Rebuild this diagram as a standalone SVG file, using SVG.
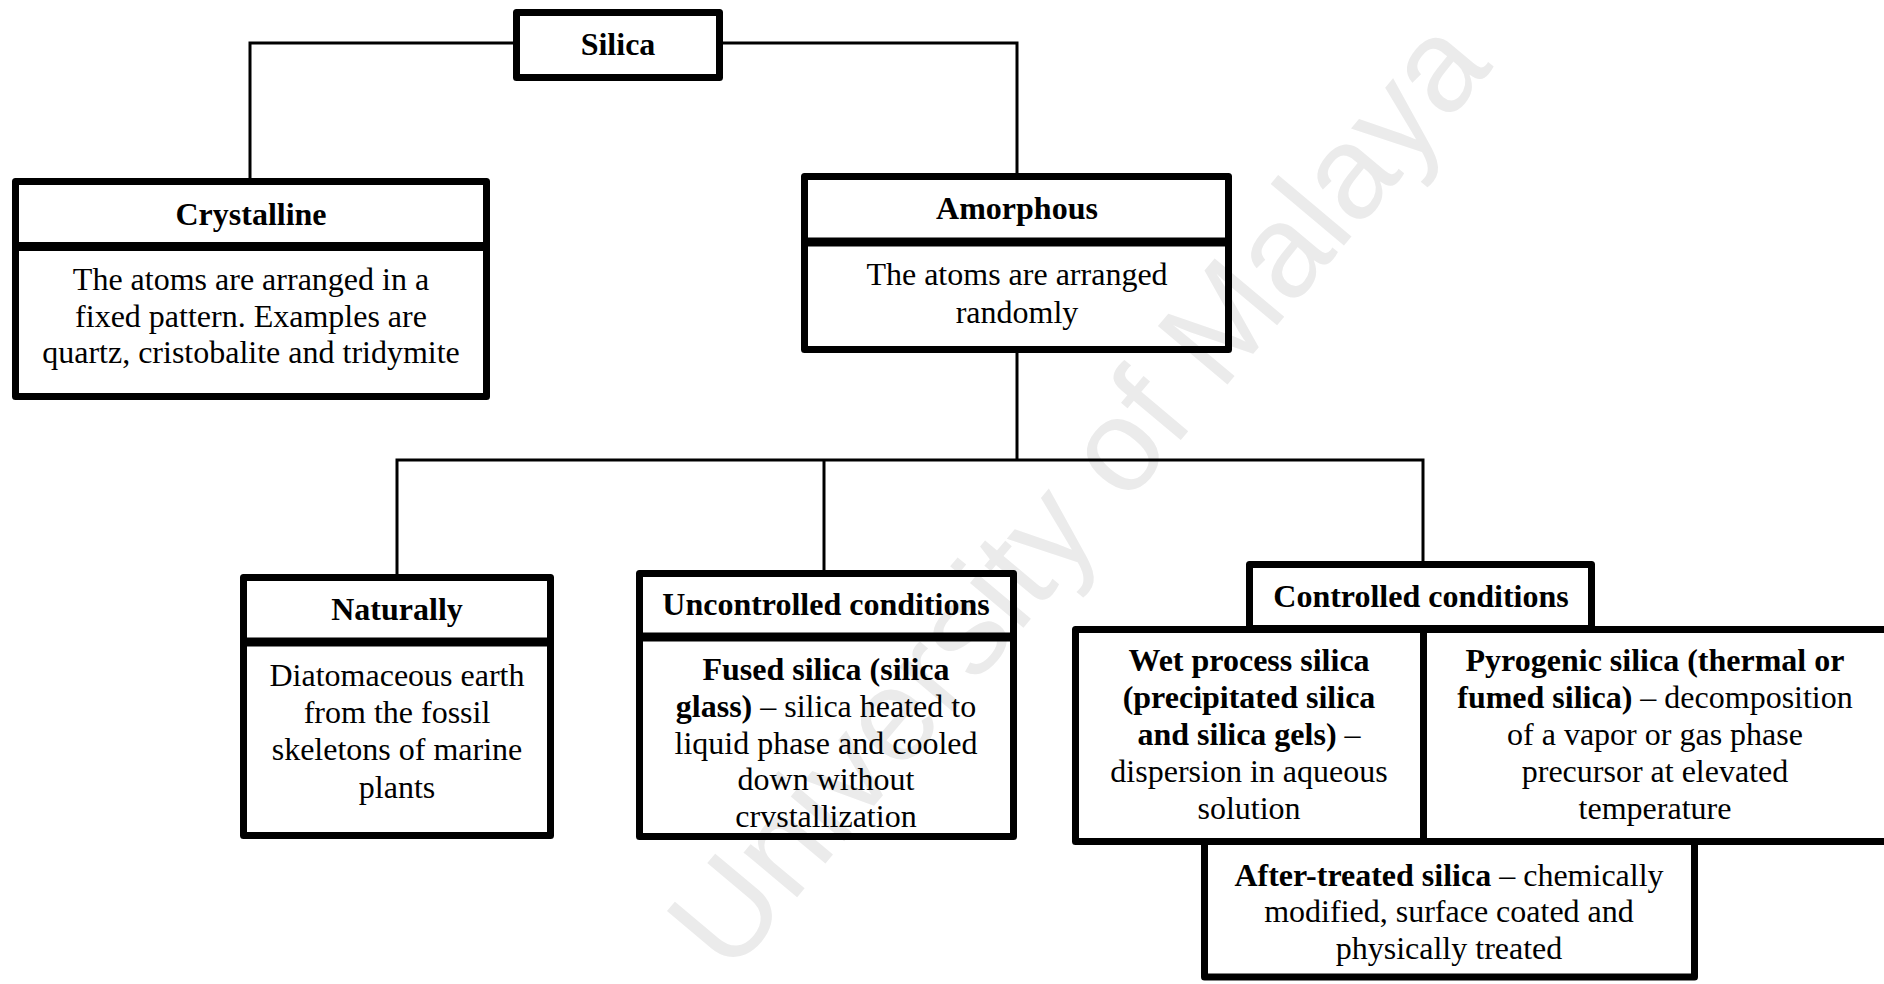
<svg xmlns="http://www.w3.org/2000/svg" width="1884" height="984" viewBox="0 0 1884 984">
<style>
.box{fill:none;stroke:#000;stroke-width:7;stroke-linejoin:round}
.div{stroke:#000;stroke-width:9}
.con{fill:none;stroke:#000;stroke-width:3}
text{font-family:"Liberation Serif","Times New Roman",serif;font-size:32px;fill:#000;text-anchor:middle}
.b{font-weight:bold}
.wm{font-family:"Liberation Sans",Arial,sans-serif;font-size:132px;fill:#ebebeb;text-anchor:middle}
</style>
<rect x="0" y="0" width="1884" height="984" fill="#fff"/>
<text class="wm" transform="translate(1112,522) rotate(-50)">University of Malaya</text>
<g id="connectors">
<path class="con" d="M513,43 H250 V178"/>
<path class="con" d="M723,43 H1017 V173"/>
<path class="con" d="M1017,353 V460"/>
<path class="con" d="M397,574 V460 H1423 V561"/>
<path class="con" d="M824,460 V570"/>
</g>
<g id="silica">
<rect class="box" x="516.5" y="12.5" width="203" height="65"/>
<text class="b" x="618" y="55">Silica</text>
</g>
<g id="crystalline">
<rect class="box" x="15.5" y="181.5" width="471" height="215"/>
<line class="div" x1="12" y1="246.5" x2="490" y2="246.5"/>
<text class="b" x="251" y="225">Crystalline</text>
<text x="251" y="290">The atoms are arranged in a</text>
<text x="251" y="327">fixed pattern. Examples are</text>
<text x="251" y="363">quartz, cristobalite and tridymite</text>
</g>
<g id="amorphous">
<rect class="box" x="804.5" y="176.5" width="424" height="173"/>
<line class="div" x1="801" y1="242" x2="1232" y2="242"/>
<text class="b" x="1017" y="219">Amorphous</text>
<text x="1017" y="285">The atoms are arranged</text>
<text x="1017" y="323">randomly</text>
</g>
<g id="naturally">
<rect class="box" x="243.5" y="577.5" width="307" height="258"/>
<line class="div" x1="240" y1="642" x2="554" y2="642"/>
<text class="b" x="397" y="620">Naturally</text>
<text x="397" y="686">Diatomaceous earth</text>
<text x="397" y="723">from the fossil</text>
<text x="397" y="760">skeletons of marine</text>
<text x="397" y="798">plants</text>
</g>
<g id="uncontrolled">
<rect class="box" x="639.5" y="573.5" width="374" height="263"/>
<line class="div" x1="636" y1="637" x2="1017" y2="637"/>
<text class="b" x="826" y="615">Uncontrolled conditions</text>
<text class="b" x="826" y="680">Fused silica (silica</text>
<text x="826" y="717"><tspan class="b">glass)</tspan> – silica heated to</text>
<text x="826" y="754">liquid phase and cooled</text>
<text x="826" y="790">down without</text>
<text x="826" y="827">crvstallization</text>
</g>
<g id="controlled">
<rect class="box" x="1249.5" y="564.5" width="342" height="64"/>
<text class="b" x="1421" y="607">Controlled conditions</text>
</g>
<g id="wet">
<rect class="box" x="1075.5" y="629.5" width="348" height="212"/>
<text class="b" x="1249" y="671">Wet process silica</text>
<text class="b" x="1249" y="708">(precipitated silica</text>
<text x="1249" y="745"><tspan class="b">and silica gels)</tspan> –</text>
<text x="1249" y="782">dispersion in aqueous</text>
<text x="1249" y="819">solution</text>
</g>
<g id="pyrogenic">
<rect class="box" x="1423.5" y="629.5" width="464" height="212"/>
<text class="b" x="1655" y="671">Pyrogenic silica (thermal or</text>
<text x="1655" y="708"><tspan class="b">fumed silica)</tspan> – decomposition</text>
<text x="1655" y="745">of a vapor or gas phase</text>
<text x="1655" y="782">precursor at elevated</text>
<text x="1655" y="819">temperature</text>
</g>
<g id="after-treated">
<rect class="box" x="1204.5" y="841.5" width="490" height="135.5"/>
<text x="1449" y="886"><tspan class="b">After-treated silica</tspan> – chemically</text>
<text x="1449" y="922">modified, surface coated and</text>
<text x="1449" y="959">physically treated</text>
</g>
</svg>
